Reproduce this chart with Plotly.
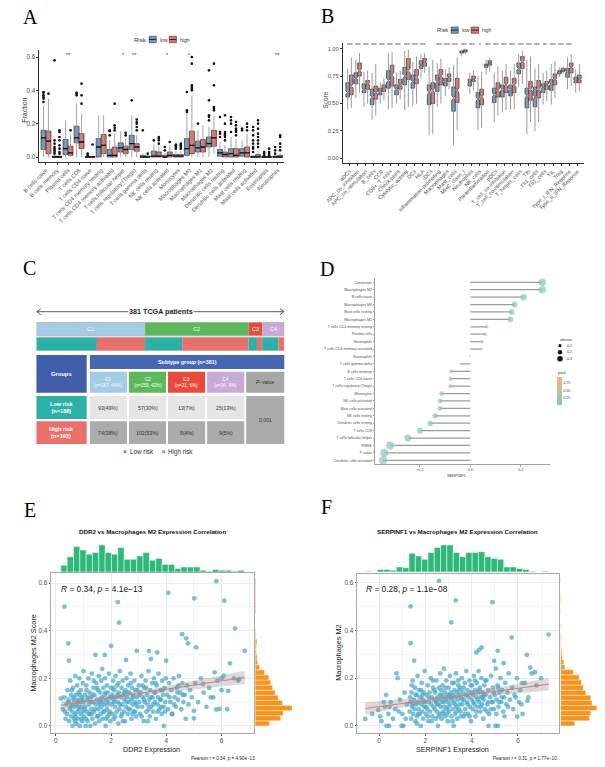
import numpy as np
import plotly.graph_objects as go

W, H = 605, 767
def X(px): return px / W
def Y(py): return 1 - py / H

SANS = "Liberation Sans, Arial, sans-serif"
SERIF = "Liberation Serif, Times New Roman, serif"
TXT = "#4d4d4d"
INK = "#222222"
BLUE = "#6D9AC4"
RED = "#E8716B"
WHISK = "#9a9a9a"
OUTL = "#333333"

# ---------------- Panel A data (CIBERSORT fractions) ----------------
a_cells = ["B cells naive", "B cells memory", "Plasma cells", "T cells CD8", "T cells CD4 naive",
           "T cells CD4 memory resting", "T cells CD4 memory activated", "T cells follicular helper",
           "T cells regulatory (Tregs)", "T cells gamma delta", "NK cells resting", "NK cells activated",
           "Monocytes", "Macrophages M0", "Macrophages M1", "Macrophages M2", "Dendritic cells resting",
           "Dendritic cells activated", "Mast cells resting", "Mast cells activated", "Eosinophils", "Neutrophils"]
a_sig = ["", "", "**", "", "", "", "", "*", "**", "", "", "*", "", "*", "", "", "", "", "", "", "", "**"]
a_low_q1 = [0.045, 0, 0.015, 0.085, 0, 0, 0, 0.03, 0.045, 0, 0, 0, 0, 0.01, 0.03, 0.06, 0.005, 0, 0.005, 0, 0, 0]
a_low_med = [0.115, 0, 0.05, 0.115, 0, 0.06, 0.01, 0.055, 0.08, 0, 0.005, 0, 0.005, 0.05, 0.055, 0.08, 0.025, 0.02, 0.025, 0, 0, 0]
a_low_q3 = [0.16, 0.005, 0.105, 0.185, 0.002, 0.11, 0.045, 0.085, 0.13, 0.01, 0.035, 0.01, 0.015, 0.11, 0.095, 0.12, 0.045, 0.05, 0.05, 0.005, 0.002, 0.005]
a_low_lo = [0, 0, 0, 0, 0, 0, 0, 0, 0, 0, 0, 0, 0, 0, 0, 0, 0, 0, 0, 0, 0, 0]
a_low_hi = [0.31, 0.01, 0.22, 0.32, 0.004, 0.25, 0.1, 0.155, 0.25, 0.02, 0.075, 0.025, 0.035, 0.26, 0.16, 0.18, 0.09, 0.12, 0.1, 0.01, 0.004, 0.01]
a_low_out = [[0.33, 0.35, 0.36, 0.37, 0.385, 0.39], [0.02, 0.03, 0.04, 0.05, 0.06, 0.08, 0.1, 0.58], [],
             [0.37, 0.38, 0.385], [0.01, 0.02], [], [0.13, 0.155, 0.16], [], [0.34], [0.16], [0.1], [0.04, 0.06],
             [0.05, 0.06, 0.07, 0.075], [0.27, 0.28, 0.39], [0.2], [0.22, 0.24, 0.25, 0.34, 0.52],
             [0.12, 0.14, 0.15, 0.24], [0.15, 0.2, 0.22, 0.24], [0.16, 0.17],
             [0.03, 0.05, 0.06, 0.08, 0.1, 0.13, 0.16, 0.18], [0.01, 0.02, 0.03], [0.02, 0.04, 0.06]]
a_high_q1 = [0.02, 0, 0.01, 0.05, 0, 0.02, 0, 0.02, 0.035, 0, 0, 0, 0, 0.02, 0.03, 0.065, 0, 0, 0, 0, 0, 0]
a_high_med = [0.095, 0, 0.025, 0.09, 0, 0.07, 0.01, 0.045, 0.06, 0, 0.005, 0.01, 0.005, 0.07, 0.06, 0.115, 0.015, 0.01, 0.025, 0, 0, 0]
a_high_q3 = [0.155, 0.005, 0.065, 0.14, 0.002, 0.135, 0.06, 0.065, 0.08, 0.005, 0.03, 0.03, 0.015, 0.155, 0.105, 0.16, 0.03, 0.05, 0.06, 0.015, 0.002, 0.01]
a_high_lo = [0, 0, 0, 0, 0, 0, 0, 0, 0, 0, 0, 0, 0, 0, 0, 0.02, 0, 0, 0, 0, 0, 0]
a_high_hi = [0.35, 0.01, 0.135, 0.26, 0.004, 0.25, 0.14, 0.11, 0.13, 0.01, 0.065, 0.07, 0.035, 0.37, 0.19, 0.245, 0.07, 0.11, 0.14, 0.035, 0.004, 0.025]
a_high_out = [[0.38], [0.02, 0.03, 0.05, 0.07, 0.1, 0.12, 0.15, 0.16], [0.16], [0.32, 0.37, 0.44], [0.075], [],
              [0.16, 0.175, 0.19, 0.32], [0.13, 0.145], [0.16, 0.18, 0.2, 0.21, 0.225], [0.02],
              [0.08, 0.1, 0.11, 0.12], [0.09], [0.05, 0.06, 0.07, 0.08], [0.4, 0.41, 0.42, 0.43, 0.56, 0.6], [],
              [0.28, 0.29, 0.3, 0.43, 0.56], [0.1, 0.12, 0.13, 0.14, 0.15, 0.2, 0.25],
              [0.13, 0.15, 0.16, 0.17, 0.19, 0.21], [0.16, 0.18, 0.2],
              [0.06, 0.08, 0.1, 0.12, 0.14, 0.17, 0.2, 0.22], [0.01, 0.02, 0.03, 0.05], [0.04, 0.06, 0.08, 0.12, 0.13]]

# ---------------- Panel B data (ssGSEA scores) ----------------
b_sets = ["aDCs", "APC_co_inhibition", "APC_co_stimulation", "B_cells", "CCR", "CD8+_T_cells", "Check-point",
          "Cytolytic_activity", "DCs", "HLA", "iDCs", "Inflammation-promoting", "Macrophages", "Mast_cells",
          "MHC_class_I", "Neutrophils", "NK_cells", "Parainflammation", "pDCs", "T_cell_co-inhibition",
          "T_cell_co-stimulation", "T_helper_cells", "Tfh", "Th1_cells", "Th2_cells", "TIL", "Treg",
          "Type_I_IFN_Reponse", "Type_II_IFN_Reponse"]
b_sig = ["***"] * 10 + [""] + ["***"] * 5 + ["*"] + ["***"] * 7 + ["**"] + ["***"] * 3 + [""]
b_low_q1 = [0.56, 0.68, 0.60, 0.49, 0.58, 0.64, 0.58, 0.67, 0.64, 0.82, 0.49, 0.61, 0.66, 0.43, 0.96, 0.66, 0.46, 0.83, 0.51, 0.56, 0.57, 0.77, 0.46, 0.47, 0.60, 0.62, 0.77, 0.74, 0.69]
b_low_med = [0.60, 0.73, 0.63, 0.56, 0.60, 0.71, 0.63, 0.75, 0.70, 0.85, 0.60, 0.70, 0.70, 0.55, 0.97, 0.70, 0.54, 0.85, 0.58, 0.63, 0.63, 0.82, 0.57, 0.56, 0.65, 0.68, 0.79, 0.79, 0.71]
b_low_q3 = [0.69, 0.78, 0.68, 0.63, 0.64, 0.80, 0.67, 0.83, 0.76, 0.89, 0.67, 0.76, 0.73, 0.65, 0.98, 0.72, 0.60, 0.86, 0.64, 0.67, 0.67, 0.87, 0.64, 0.65, 0.68, 0.72, 0.80, 0.82, 0.74]
b_low_lo = [0.45, 0.55, 0.47, 0.35, 0.50, 0.45, 0.50, 0.44, 0.48, 0.73, 0.21, 0.47, 0.57, 0.12, 0.93, 0.59, 0.26, 0.76, 0.33, 0.42, 0.44, 0.65, 0.22, 0.25, 0.49, 0.49, 0.74, 0.63, 0.60]
b_low_hi = [0.82, 0.90, 0.79, 0.78, 0.69, 0.96, 0.78, 0.98, 0.88, 0.95, 0.84, 0.87, 0.81, 0.85, 0.99, 0.78, 0.75, 0.90, 0.78, 0.80, 0.80, 0.95, 0.90, 0.82, 0.78, 0.86, 0.83, 0.92, 0.81]
b_high_q1 = [0.58, 0.75, 0.63, 0.54, 0.61, 0.66, 0.63, 0.72, 0.68, 0.84, 0.50, 0.67, 0.70, 0.51, 0.97, 0.70, 0.49, 0.85, 0.56, 0.60, 0.60, 0.82, 0.53, 0.55, 0.63, 0.67, 0.79, 0.78, 0.69]
b_high_med = [0.66, 0.80, 0.68, 0.60, 0.64, 0.76, 0.67, 0.80, 0.74, 0.88, 0.62, 0.75, 0.74, 0.62, 0.98, 0.72, 0.56, 0.87, 0.62, 0.67, 0.67, 0.88, 0.63, 0.63, 0.67, 0.72, 0.80, 0.83, 0.72]
b_high_q3 = [0.76, 0.87, 0.71, 0.66, 0.67, 0.85, 0.72, 0.91, 0.81, 0.91, 0.69, 0.81, 0.77, 0.73, 0.99, 0.75, 0.63, 0.89, 0.69, 0.74, 0.73, 0.93, 0.70, 0.71, 0.70, 0.77, 0.82, 0.87, 0.76]
b_high_lo = [0.46, 0.60, 0.50, 0.39, 0.53, 0.46, 0.54, 0.47, 0.50, 0.78, 0.22, 0.50, 0.63, 0.26, 0.95, 0.62, 0.28, 0.79, 0.39, 0.44, 0.45, 0.68, 0.33, 0.33, 0.52, 0.55, 0.77, 0.66, 0.61]
b_high_hi = [0.92, 0.96, 0.80, 0.86, 0.73, 0.97, 0.80, 0.99, 0.93, 0.96, 0.90, 0.91, 0.83, 0.92, 1.00, 0.80, 0.79, 0.92, 0.84, 0.86, 0.86, 0.98, 0.93, 0.86, 0.80, 0.89, 0.84, 0.95, 0.86]
b_n = [188, 193]

# ---------------- Panel C data ----------------
c_subtypes = ["C1", "C2", "C3", "C4"]
c_low = [93, 57, 13, 25]
c_high = [74, 102, 8, 9]
c_pvalue = "0.001"
c_colors = ["#A3CBE6", "#5CB85B", "#E84B3C", "#C8AAD9"]

# ---------------- Panel D data (SERPINF1 vs immune cells) ----------------
d_names = ["Correlation", "Macrophages M2", "B cells naive", "Macrophages M0", "Mast cells resting",
           "Macrophages M1", "T cells CD4 memory resting", "Plasma cells", "Neutrophils",
           "T cells CD4 memory activated", "Eosinophils", "T cells gamma delta", "B cells memory",
           "T cells CD4 naive", "T cells regulatory (Tregs)", "Monocytes", "NK cells activated",
           "Mast cells activated", "NK cells resting", "Dendritic cells resting", "T cells CD8",
           "T cells follicular helper", "RMSE", "P-value", "Dendritic cells activated"]
d_cor = [0.284, 0.284, 0.21, 0.175, 0.163, 0.158, 0.065, 0.059, 0.048, 0.043, -0.003, -0.037, -0.075, -0.078,
         -0.078, -0.113, -0.119, -0.119, -0.139, -0.158, -0.198, -0.247, -0.316, -0.339, -0.344]
d_pval = [0.02, 0.02, 0.02, 0.02, 0.02, 0.02, 0.22, 0.27, 0.38, 0.42, 0.95, 0.5, 0.14, 0.13, 0.13, 0.04, 0.03,
          0.03, 0.02, 0.02, 0.02, 0.02, 0.02, 0.02, 0.02]

# ---------------- Panel E data (DDR2 vs Macrophages M2) ----------------
e_points = [
    (5.81, 0.608), (4.07, 0.559), (5.01, 0.536), (6.10, 0.526), (0.31, 0.501), (2.24, 0.520), (2.29, 0.434),
    (6.49, 0.410), (4.57, 0.385), (4.72, 0.368), (4.78, 0.347), (0.45, 0.347), (5.08, 0.330), (6.84, 0.315),
    (2.00, 0.336), (2.93, 0.315), (3.37, 0.315), (3.67, 0.309), (1.43, 0.298), (1.77, 0.298), (0.47, 0.274),
    (2.54, 0.277), (3.44, 0.281), (3.99, 0.274), (6.30, 0.263), (5.75, 0.225), (6.08, 0.211), (6.63, 0.196),
    (6.00, 0.200), (5.32, 0.176), (5.61, 0.120), (6.24, 0.147), (5.93, 0.071), (5.81, 0.069), (5.00, 0.032),
    (5.00, 0.063), (3.91, 0.000), (0.18, 0.115),
    (0.25, 0.07), (0.3, 0.12), (0.35, 0.03), (0.38, 0.09), (0.4, 0.05), (0.42, 0.15), (0.45, 0.1), (0.48, 0.02),
    (0.5, 0.07), (0.52, 0.19), (0.55, 0.04), (0.55, 0.13), (0.58, 0.09), (0.6, 0.0), (0.6, 0.06), (0.62, 0.16),
    (0.65, 0.11), (0.66, 0.03), (0.68, 0.08), (0.7, 0.21), (0.7, 0.05), (0.72, 0.13), (0.74, 0.01), (0.75, 0.09),
    (0.77, 0.17), (0.78, 0.06), (0.8, 0.11), (0.8, 0.03), (0.82, 0.14), (0.84, 0.07), (0.85, 0.2), (0.86, 0.0),
    (0.88, 0.1), (0.9, 0.05), (0.9, 0.15), (0.92, 0.08), (0.94, 0.12), (0.95, 0.02), (0.97, 0.18), (0.98, 0.06),
    (1.0, 0.23), (1.0, 0.1),
    (1.02, 0.04), (1.05, 0.13), (1.06, 0.08), (1.08, 0.0), (1.1, 0.17), (1.12, 0.06), (1.14, 0.11), (1.15, 0.02),
    (1.18, 0.2), (1.2, 0.09), (1.22, 0.14), (1.23, 0.05), (1.25, 0.0), (1.27, 0.12), (1.28, 0.07), (1.3, 0.22),
    (1.32, 0.03), (1.34, 0.1), (1.36, 0.16), (1.38, 0.06), (1.4, 0.13), (1.42, 0.01), (1.44, 0.09), (1.46, 0.18),
    (1.48, 0.04), (1.5, 0.11), (1.52, 0.15), (1.54, 0.07), (1.55, 0.21), (1.57, 0.02), (1.58, 0.1), (1.6, 0.14),
    (1.62, 0.05), (1.64, 0.19), (1.65, 0.08), (1.67, 0.12), (1.68, 0.24), (1.7, 0.03), (1.72, 0.16), (1.74, 0.09),
    (1.75, 0.06), (1.77, 0.13), (1.78, 0.2), (1.8, 0.0), (1.82, 0.11), (1.84, 0.07), (1.85, 0.17), (1.87, 0.04),
    (1.88, 0.14), (1.9, 0.1), (1.92, 0.22), (1.94, 0.06), (1.95, 0.12), (1.97, 0.02), (1.99, 0.16),
    (2.02, 0.09), (2.04, 0.13), (2.05, 0.05), (2.07, 0.19), (2.09, 0.11), (2.1, 0.03), (2.12, 0.15), (2.14, 0.08),
    (2.16, 0.21), (2.18, 0.12), (2.2, 0.06), (2.22, 0.17), (2.24, 0.1), (2.26, 0.01), (2.28, 0.14), (2.3, 0.07),
    (2.32, 0.23), (2.34, 0.12), (2.36, 0.04), (2.38, 0.16), (2.4, 0.09), (2.42, 0.19), (2.44, 0.13), (2.46, 0.06),
    (2.48, 0.11), (2.5, 0.02), (2.52, 0.15), (2.54, 0.08), (2.56, 0.2), (2.58, 0.12), (2.6, 0.05), (2.62, 0.17),
    (2.64, 0.1), (2.66, 0.14), (2.68, 0.07), (2.7, 0.22), (2.72, 0.11), (2.74, 0.03), (2.76, 0.16), (2.78, 0.09),
    (2.8, 0.13), (2.82, 0.06), (2.84, 0.19), (2.86, 0.1), (2.88, 0.15), (2.9, 0.04), (2.93, 0.12), (2.96, 0.08),
    (3.0, 0.17), (3.02, 0.1), (3.05, 0.05), (3.07, 0.14), (3.1, 0.21), (3.12, 0.08), (3.15, 0.12), (3.18, 0.02),
    (3.2, 0.16), (3.22, 0.1), (3.25, 0.19), (3.28, 0.06), (3.3, 0.13), (3.32, 0.09), (3.35, 0.23), (3.38, 0.11),
    (3.4, 0.04), (3.42, 0.15), (3.45, 0.08), (3.48, 0.18), (3.5, 0.12), (3.52, 0.06), (3.55, 0.2), (3.58, 0.1),
    (3.6, 0.14), (3.62, 0.03), (3.65, 0.17), (3.68, 0.09), (3.7, 0.12), (3.72, 0.22), (3.75, 0.07), (3.78, 0.15),
    (3.8, 0.11), (3.83, 0.05), (3.85, 0.19), (3.88, 0.13), (3.9, 0.08), (3.93, 0.16), (3.96, 0.1), (3.98, 0.2),
    (4.03, 0.13), (4.06, 0.07), (4.1, 0.18), (4.14, 0.1), (4.18, 0.15), (4.22, 0.05), (4.26, 0.2), (4.3, 0.12),
    (4.34, 0.08), (4.38, 0.16), (4.42, 0.11), (4.46, 0.21), (4.5, 0.14), (4.54, 0.07), (4.58, 0.18), (4.62, 0.1),
    (4.66, 0.13), (4.7, 0.03), (4.75, 0.17), (4.8, 0.09), (4.86, 0.15), (4.92, 0.12),
    (5.05, 0.18), (5.15, 0.1), (5.25, 0.2), (5.35, 0.14), (5.45, 0.08), (5.55, 0.16), (5.7, 0.12), (5.85, 0.19),
    (6.0, 0.15), (6.2, 0.07), (6.45, 0.2), (6.6, 0.19),
    (0.55, 0.08), (0.63, 0.12), (0.71, 0.04), (0.79, 0.1), (0.87, 0.13), (0.93, 0.03), (1.03, 0.07), (1.11, 0.15),
    (1.19, 0.05), (1.26, 0.1), (1.33, 0.13), (1.41, 0.07), (1.49, 0.16), (1.56, 0.09), (1.63, 0.11), (1.71, 0.06),
    (1.79, 0.14), (1.86, 0.09), (1.93, 0.05), (2.01, 0.12), (2.08, 0.16), (2.15, 0.04), (2.23, 0.13), (2.31, 0.09),
    (2.39, 0.05), (2.47, 0.14), (2.55, 0.1), (2.63, 0.07), (2.71, 0.18), (2.79, 0.12), (2.87, 0.06), (2.95, 0.15),
    (3.03, 0.13), (3.11, 0.04), (3.19, 0.11), (3.27, 0.16), (3.36, 0.07), (3.44, 0.12), (3.53, 0.09), (3.61, 0.18),
    (3.69, 0.06), (3.77, 0.11), (3.86, 0.15), (3.95, 0.06), (4.12, 0.12), (4.28, 0.09), (4.44, 0.17), (4.6, 0.13),
    (0.33, 0.06), (0.46, 0.11), (0.58, 0.15), (0.69, 0.02), (0.83, 0.08), (0.96, 0.11), (1.09, 0.03), (1.16, 0.12),
    (1.29, 0.05), (1.37, 0.19), (1.53, 0.04), (1.69, 0.1), (1.83, 0.03), (2.11, 0.1), (2.27, 0.18), (2.43, 0.02),
    (2.59, 0.14), (2.77, 0.05), (2.91, 0.09), (3.14, 0.17), (3.33, 0.02), (3.57, 0.14), (3.81, 0.08), (4.2, 0.05),
    (4.4, 0.14)]
e_hist_top = [8, 18, 30, 26, 21, 23, 32, 23, 21, 29, 15, 15, 19, 23, 14, 16, 9, 9, 4, 6, 6, 6, 2, 1, 3, 2, 2, 1, 2]
e_top_start, e_top_bw = 0.18, 0.229
e_hist_right = [23, 41, 45, 59, 44, 37, 32, 28, 25, 22, 15, 7, 4, 3, 2, 2, 3, 1, 1, 0, 0, 0, 1, 1, 1, 1, 1, 1, 1]
e_right_start, e_right_bw = 0.0, 0.0214
e_label = "<i>R</i> = 0.34, <i>p</i> = 4.1e\u221213"
e_pearson = "Pearson r = 0.34, p = 4.90e\u221213"

# ---------------- Panel F data (SERPINF1 vs Macrophages M2) ----------------
f_points = [
    (2.59, 0.608), (3.31, 0.526), (4.90, 0.519), (1.36, 0.501), (3.12, 0.434), (7.33, 0.383), (5.73, 0.371),
    (1.36, 0.347), (4.43, 0.329), (4.20, 0.308), (5.13, 0.315), (4.32, 0.319), (6.39, 0.298), (1.51, 0.274),
    (4.97, 0.273), (5.38, 0.263), (6.53, 0.245), (6.74, 0.225), (6.18, 0.179), (6.41, 0.105), (-0.60, 0.029),
    (-0.04, 0.067), (0.32, 0.0), (0.43, 0.0), (4.73, 0.0), (5.03, 0.0), (5.13, 0.0), (5.97, 0.039), (0.97, 0.0),
    (-0.3, 0.05), (0.05, 0.04), (0.1, 0.02), (0.25, 0.08), (0.3, 0.13), (0.4, 0.05), (0.5, 0.1), (0.6, 0.03),
    (0.7, 0.07), (0.8, 0.2), (0.9, 0.11), (1.0, 0.05), (1.1, 0.14), (1.2, 0.09), (0.75, 0.22), (1.05, 0.0),
    (1.32, 0.06), (1.35, 0.1), (1.38, 0.03), (1.4, 0.14), (1.42, 0.08), (1.45, 0.19), (1.47, 0.05), (1.5, 0.11),
    (1.52, 0.07), (1.55, 0.16), (1.57, 0.02), (1.6, 0.09), (1.62, 0.13), (1.64, 0.04), (1.66, 0.21), (1.68, 0.1),
    (1.7, 0.07), (1.72, 0.15), (1.75, 0.05), (1.77, 0.12), (1.8, 0.0), (1.82, 0.09), (1.84, 0.18), (1.86, 0.06),
    (1.88, 0.11), (1.9, 0.03), (1.92, 0.14), (1.95, 0.08), (1.97, 0.23), (2.0, 0.1), (2.02, 0.05), (2.05, 0.13),
    (2.08, 0.07), (2.1, 0.17), (2.13, 0.02), (2.15, 0.1), (2.18, 0.14), (2.2, 0.06), (2.23, 0.2), (2.25, 0.09),
    (2.28, 0.12), (2.3, 0.04), (2.33, 0.16), (2.35, 0.08), (2.38, 0.11),
    (2.4, 0.07), (2.42, 0.14), (2.44, 0.03), (2.46, 0.1), (2.48, 0.19), (2.5, 0.06), (2.52, 0.12), (2.54, 0.0),
    (2.56, 0.09), (2.58, 0.16), (2.6, 0.05), (2.62, 0.11), (2.64, 0.22), (2.66, 0.08), (2.68, 0.13), (2.7, 0.03),
    (2.72, 0.1), (2.74, 0.17), (2.76, 0.06), (2.78, 0.12), (2.8, 0.24), (2.82, 0.08), (2.84, 0.14), (2.86, 0.04),
    (2.88, 0.11), (2.9, 0.19), (2.92, 0.07), (2.94, 0.13), (2.96, 0.02), (2.98, 0.1), (3.0, 0.16), (3.02, 0.06),
    (3.04, 0.12), (3.06, 0.21), (3.08, 0.09), (3.1, 0.14), (3.12, 0.04), (3.14, 0.11), (3.16, 0.18), (3.18, 0.07),
    (3.2, 0.13), (3.22, 0.0), (3.24, 0.1), (3.26, 0.15), (3.28, 0.05), (3.3, 0.12), (3.32, 0.22), (3.34, 0.08),
    (3.36, 0.14), (3.38, 0.03), (3.4, 0.11), (3.42, 0.17), (3.44, 0.07), (3.46, 0.13), (3.48, 0.09),
    (3.5, 0.16), (3.52, 0.06), (3.55, 0.12), (3.57, 0.2), (3.6, 0.09), (3.62, 0.14), (3.65, 0.04), (3.67, 0.11),
    (3.7, 0.18), (3.72, 0.07), (3.75, 0.13), (3.77, 0.23), (3.8, 0.1), (3.82, 0.15), (3.85, 0.05), (3.87, 0.12),
    (3.9, 0.19), (3.92, 0.08), (3.95, 0.14), (3.97, 0.02), (4.0, 0.11), (4.02, 0.17), (4.05, 0.07), (4.07, 0.13),
    (4.1, 0.21), (4.12, 0.09), (4.15, 0.15), (4.17, 0.04), (4.2, 0.12), (4.22, 0.18), (4.25, 0.08), (4.27, 0.14),
    (4.3, 0.23), (4.32, 0.1), (4.35, 0.16), (4.37, 0.06), (4.4, 0.12), (4.42, 0.2), (4.45, 0.09), (4.47, 0.14),
    (4.5, 0.03), (4.52, 0.11), (4.55, 0.17), (4.57, 0.07),
    (4.6, 0.13), (4.64, 0.19), (4.68, 0.09), (4.72, 0.15), (4.76, 0.05), (4.8, 0.12), (4.84, 0.21), (4.88, 0.1),
    (4.92, 0.16), (4.96, 0.07), (5.0, 0.13), (5.04, 0.24), (5.08, 0.11), (5.12, 0.17), (5.16, 0.08), (5.2, 0.14),
    (5.24, 0.2), (5.28, 0.1), (5.32, 0.15), (5.36, 0.06), (5.4, 0.12), (5.45, 0.18), (5.5, 0.09), (5.55, 0.14),
    (5.6, 0.22), (5.65, 0.11),
    (5.75, 0.16), (5.8, 0.07), (5.9, 0.12), (5.95, 0.2), (6.05, 0.1), (6.1, 0.15), (6.2, 0.05), (6.3, 0.18),
    (6.45, 0.12), (6.6, 0.22), (6.8, 0.17), (7.0, 0.2),
    (1.34, 0.12), (1.46, 0.09), (1.58, 0.13), (1.69, 0.05), (1.81, 0.15), (1.93, 0.1), (2.04, 0.08), (2.16, 0.12),
    (2.27, 0.02), (2.39, 0.15), (2.51, 0.09), (2.63, 0.13), (2.75, 0.05), (2.87, 0.16), (2.99, 0.08), (3.11, 0.12),
    (3.23, 0.18), (3.35, 0.06), (3.47, 0.15), (3.59, 0.11), (3.71, 0.05), (3.83, 0.09), (3.96, 0.17), (4.08, 0.1),
    (4.2, 0.06), (4.33, 0.15), (4.46, 0.12), (4.59, 0.19), (4.71, 0.1), (4.83, 0.07), (4.95, 0.14), (5.07, 0.05),
    (5.19, 0.1), (5.31, 0.12), (1.41, 0.17), (1.63, 0.01), (1.87, 0.13), (2.11, 0.04), (2.33, 0.19), (2.45, 0.1),
    (2.57, 0.04), (2.69, 0.15), (2.81, 0.1), (2.93, 0.05), (3.05, 0.13), (3.17, 0.02), (3.29, 0.09), (3.41, 0.19),
    (3.53, 0.04), (3.65, 0.16), (3.79, 0.13), (3.91, 0.04), (4.03, 0.14), (4.14, 0.19), (4.26, 0.11), (4.39, 0.08),
    (4.53, 0.13), (4.66, 0.06), (4.9, 0.1), (5.15, 0.16), (5.42, 0.04), (5.58, 0.08), (0.45, 0.08), (0.85, 0.06),
    (0.2, 0.1), (1.15, 0.03), (5.85, 0.13), (6.15, 0.09)]
f_hist_top = [1, 0, 3, 3, 2, 6, 5, 22, 19, 15, 23, 29, 32, 32, 23, 18, 23, 23, 24, 18, 16, 15, 6, 6, 4, 3, 1, 0, 1]
f_top_start, f_top_bw = -0.62, 0.273
f_hist_right = [23, 47, 49, 59, 51, 49, 41, 37, 34, 30, 21, 7, 5, 3, 2, 1, 1, 1, 0, 1, 0, 0, 1, 0, 1, 1, 0, 0, 1]
f_right_start, f_right_bw = 0.0, 0.0214
f_label = "<i>R</i> = 0.28, <i>p</i> = 1.1e\u221208"
f_pearson = "Pearson r = 0.31, p = 1.77e\u221210"

# =====================================================================
traces, shapes, ann = [], [], []

def text(x, y, s, size, color=INK, xanchor="center", yanchor="middle", angle=0, family=SANS, bg=None):
    d = dict(x=X(x), y=Y(y), xref="paper", yref="paper", text=s, showarrow=False, xanchor=xanchor,
             yanchor=yanchor, font=dict(size=size, color=color, family=family), textangle=angle, borderpad=0)
    if bg:
        d["bgcolor"] = bg
    ann.append(d)

def rect(x0, x1, y0, y1, fill, line=None, lw=0):
    shapes.append(dict(type="rect", xref="paper", yref="paper", x0=X(x0), x1=X(x1), y0=Y(y1), y1=Y(y0),
                       fillcolor=fill, line=dict(color=line or fill, width=lw), layer="above"))

def seg_trace(x0s, x1s, y0s, y1s, color, width, xa, ya):
    xs, ys = [], []
    for a, b, c, d in zip(x0s, x1s, y0s, y1s):
        xs += [a, b, None]
        ys += [c, d, None]
    return go.Scatter(x=xs, y=ys, mode="lines", line=dict(color=color, width=width), xaxis=xa, yaxis=ya,
                      hoverinfo="skip", showlegend=False)

def box_panel(n, groups, xa, ya, notched, whisk_w, med_overlay):
    off, bw = 0.225, 0.45
    for sign, (q1, med, q3, lo, hi, out, color, nn) in zip((-1, 1), groups):
        pos = [i + sign * off for i in range(n)]
        traces.append(seg_trace(pos, pos, lo, hi, WHISK, whisk_w, xa, ya))
        kw = dict(x=pos, q1=q1, median=med, q3=q3, lowerfence=q1, upperfence=q3, width=bw, whiskerwidth=0,
                  fillcolor=color, line=dict(color=OUTL, width=0.7), boxpoints=False, xaxis=xa, yaxis=ya,
                  hoverinfo="skip", showlegend=False)
        if notched:
            kw.update(notched=True, notchwidth=0.5,
                      notchspan=[1.58 * (b - a) / np.sqrt(nn) for a, b in zip(q1, q3)])
        traces.append(go.Box(**kw))
        if med_overlay:
            traces.append(seg_trace([p - bw / 2 for p in pos], [p + bw / 2 for p in pos], med, med, "#111", 1.4, xa, ya))
        if out is not None:
            ox, oy = [], []
            for p, vals in zip(pos, out):
                ox += [p] * len(vals)
                oy += vals
            traces.append(go.Scatter(x=ox, y=oy, mode="markers", marker=dict(color="#111", size=2.6),
                                     xaxis=xa, yaxis=ya, hoverinfo="skip", showlegend=False))

# ---------------- Panel A ----------------
box_panel(len(a_cells),
          [(a_low_q1, a_low_med, a_low_q3, a_low_lo, a_low_hi, a_low_out, BLUE, 188),
           (a_high_q1, a_high_med, a_high_q3, a_high_lo, a_high_hi, a_high_out, RED, 193)],
          "x", "y", False, 0.9, True)
for i, s in enumerate(a_sig):
    if s:
        ann.append(dict(x=i, y=0.612, xref="x", yref="y", text=s, showarrow=False,
                        font=dict(size=5.5, color="#333", family=SANS)))

def risk_legend(rx, ry, l0, l1, lt, h0, h1, ht, y0, y1, fs):
    text(rx, ry, "Risk", fs + 1, "#333")
    for (x0, x1, c, tx, lab) in ((l0, l1, BLUE, lt, "low"), (h0, h1, RED, ht, "high")):
        rect(x0, x1, y0, y1, c, OUTL, 0.6)
        shapes.append(dict(type="line", xref="paper", yref="paper", x0=X(x0), x1=X(x1), y0=Y((y0 + y1) / 2),
                           y1=Y((y0 + y1) / 2), line=dict(color="#111", width=0.8)))
        text(tx, ry, lab, fs, "#333", xanchor="left")

risk_legend(127.5, 39.5, 136, 143.3, 146, 156.7, 164, 166.7, 36.3, 42.7, 5)
text(7, 110, "Fraction", 7, "#333", angle=-90)

# ---------------- Panel B ----------------
box_panel(len(b_sets),
          [(b_low_q1, b_low_med, b_low_q3, b_low_lo, b_low_hi, None, BLUE, b_n[0]),
           (b_high_q1, b_high_med, b_high_q3, b_high_lo, b_high_hi, None, RED, b_n[1])],
          "x2", "y2", True, 1.0, False)
for i, s in enumerate(b_sig):
    if s:
        ann.append(dict(x=i, y=1.03, xref="x2", yref="y2", text=s, showarrow=False,
                        font=dict(size=4.8, color="#333", family=SANS)))
risk_legend(438, 30, 446.7, 454, 456.7, 467.3, 475, 477, 27, 33.3, 4.8)
text(317.5, 100, "Score", 6.5, "#333", angle=-90)

# ---------------- Panel C ----------------
c_n = [l + h for l, h in zip(c_low, c_high)]
c_total = sum(c_n)
cum = 0
for name, n, lo, hi, col in zip(c_subtypes, c_n, c_low, c_high, c_colors):
    traces.append(go.Bar(orientation="h", y=[1], x=[n], base=[cum], width=0.9, marker=dict(color=col, line=dict(width=0)),
                         xaxis="x3", yaxis="y3", hoverinfo="skip", showlegend=False))
    ann.append(dict(x=cum + n / 2, y=1, xref="x3", yref="y3", text=name, showarrow=False,
                    font=dict(size=5.5, color="white", family=SANS)))
    traces.append(go.Bar(orientation="h", y=[0], x=[lo], base=[cum], width=0.9, marker=dict(color="#2DB1A7", line=dict(width=0)),
                         xaxis="x3", yaxis="y3", hoverinfo="skip", showlegend=False))
    traces.append(go.Bar(orientation="h", y=[0], x=[hi], base=[cum + lo], width=0.9, marker=dict(color="#E8716C", line=dict(width=0)),
                         xaxis="x3", yaxis="y3", hoverinfo="skip", showlegend=False))
    cum += n
for yy in (1, 0):
    shapes.append(dict(type="rect", xref="x3", yref="y3", x0=0, x1=c_total, y0=yy - 0.45, y1=yy + 0.45,
                       line=dict(color="#B0B0B0", width=0.8), fillcolor="rgba(0,0,0,0)", layer="above"))

# arrow with title
shapes.append(dict(type="line", xref="paper", yref="paper", x0=X(20.5), x1=X(274.5), y0=Y(311.7), y1=Y(311.7),
                   line=dict(color="#333", width=0.8)))
shapes.append(dict(type="path", xref="paper", yref="paper", line=dict(color="#333", width=0.8),
                   path=f"M {X(24.5)},{Y(308.7)} L {X(20.5)},{Y(311.7)} L {X(24.5)},{Y(314.7)}"))
shapes.append(dict(type="path", xref="paper", yref="paper", line=dict(color="#333", width=0.8),
                   path=f"M {X(270.5)},{Y(308.7)} L {X(274.5)},{Y(311.7)} L {X(270.5)},{Y(314.7)}"))
text(148, 311.5, f"<b>{c_total} TCGA patients</b>", 7.2, "#222", bg="white")

# table
gx0, gx1 = 20, 71.7
cols = [(75, 113.2), (115.2, 153.4), (155.4, 193.6), (195.6, 233.8), (235.8, 275)]
r_hdr, r_sub, r_low, r_high = (355, 369), (371.7, 392.7), (396, 419), (421.3, 444)
rect(gx0, gx1, r_hdr[0], r_sub[1], "#3F5DA8")
text((gx0 + gx1) / 2, (r_hdr[0] + r_sub[1]) / 2, "<b>Groups</b>", 5.8, "white")
rect(cols[0][0], cols[4][1], r_hdr[0], r_hdr[1], "#4767B1")
text((cols[0][0] + cols[4][1]) / 2, sum(r_hdr) / 2, f"<b>Subtype group (n={c_total})</b>", 5.4, "white")
for (x0, x1), name, n, col in zip(cols[:4], c_subtypes, c_n, c_colors):
    rect(x0, x1, r_sub[0], r_sub[1], col)
    text((x0 + x1) / 2, sum(r_sub) / 2, f"{name}<br>(n={n}, {round(100 * n / c_total)}%)", 4.6, "white")
rect(cols[4][0], cols[4][1], r_sub[0], r_sub[1], "#A7A7A7")
text(sum(cols[4]) / 2, sum(r_sub) / 2, "<i>P</i>\u2212value", 5, "#333")
n_low, n_high = sum(c_low), sum(c_high)
rect(gx0, gx1, r_low[0], r_low[1], "#2DB1A7")
text((gx0 + gx1) / 2, sum(r_low) / 2, f"<b>Low risk<br>(n={n_low})</b>", 5.6, "white")
rect(gx0, gx1, r_high[0], r_high[1], "#E8716C")
text((gx0 + gx1) / 2, sum(r_high) / 2, f"<b>High risk<br>(n={n_high})</b>", 5.6, "white")
for (x0, x1), lo, hi in zip(cols[:4], c_low, c_high):
    rect(x0, x1, r_low[0], r_low[1], "#E6E6E6")
    text((x0 + x1) / 2, sum(r_low) / 2, f"{lo}({round(100 * lo / n_low)}%)", 5.2, "#333")
    rect(x0, x1, r_high[0], r_high[1], "#ABABAB")
    text((x0 + x1) / 2, sum(r_high) / 2, f"{hi}({round(100 * hi / n_high)}%)", 5.2, "#333")
rect(cols[4][0], cols[4][1], r_low[0], r_high[1], "#ABABAB")
text(sum(cols[4]) / 2, (r_low[0] + r_high[1]) / 2, c_pvalue, 5.2, "#333")
# legend
rect(109.8, 112.6, 450.3, 453.1, "#2DB1A7")
text(115, 451.7, "Low risk", 6.3, "#333", xanchor="left")
rect(149.5, 152.3, 450.3, 453.1, "#E8716C")
text(154.5, 451.7, "High risk", 6.3, "#333", xanchor="left")

# ---------------- Panel D ----------------
d_idx = list(range(len(d_names)))
traces.append(seg_trace([0] * len(d_cor), d_cor, d_idx, d_idx, "#9c9c9c", 1.2, "x4", "y4"))
traces.append(go.Scatter(
    x=d_cor, y=d_idx, mode="markers", xaxis="x4", yaxis="y4", hoverinfo="skip", showlegend=False,
    marker=dict(size=[abs(v) for v in d_cor], sizemode="area", sizeref=0.01, sizemin=0.8,
                color=d_pval, cmin=0.02, cmax=0.95,
                colorscale=[[0, "#86C8BE"], [0.5, "#C0C1A4"], [1, "#F6B283"]], line=dict(width=0),
                showscale=True,
                colorbar=dict(x=X(555.7), xanchor="left", y=Y(405), yanchor="bottom", len=28.3, lenmode="pixels",
                              thickness=5.3, thicknessmode="pixels", xpad=0, ypad=0, outlinewidth=0,
                              tickvals=[0.25, 0.5, 0.75], ticktext=["0.25", "0.50", "0.75"], ticks="",
                              tickfont=dict(size=3.6, color="#333", family=SANS)))))
text(558, 339.3, "abscor", 4, "#333", xanchor="left")
for v, py in ((0.1, 345.7), (0.2, 352.2), (0.3, 358.8)):
    r = np.sqrt(v / 0.01) / 2
    shapes.append(dict(type="circle", xref="paper", yref="paper", xsizemode="pixel", ysizemode="pixel",
                       xanchor=X(558.7), yanchor=Y(py), x0=-r, x1=r, y0=-r, y1=r,
                       fillcolor="#111", line=dict(width=0)))
    text(565, py, f"{v:.1f}", 3.6, "#333", xanchor="left")
text(556, 372.8, "pval", 4, "#333", xanchor="left")
text(452, 475.5, "SERPINF1", 3.8, "#333")

# ---------------- Panels E / F ----------------
def scatter_panel(points, htop, tstart, tbw, hright, rstart, rbw, xs, ys_, xtop, ytop, xr, yr):
    px = np.array([p[0] for p in points]); py = np.array([p[1] for p in points])
    traces.append(go.Scatter(x=px, y=py, mode="markers", xaxis=xs, yaxis=ys_, hoverinfo="skip", showlegend=False,
                             marker=dict(size=4.8, color="rgba(72,168,201,0.72)", line=dict(width=0))))
    slope, inter = np.polyfit(px, py, 1)
    gx = np.linspace(px.min(), px.max(), 60)
    n = len(px); res = py - (inter + slope * px)
    s = np.sqrt(np.sum(res ** 2) / (n - 2))
    se = s * np.sqrt(1 / n + (gx - px.mean()) ** 2 / np.sum((px - px.mean()) ** 2))
    fit = inter + slope * gx
    traces.append(go.Scatter(x=np.concatenate([gx, gx[::-1]]), y=np.concatenate([fit + 1.97 * se, (fit - 1.97 * se)[::-1]]),
                             fill="toself", fillcolor="rgba(150,150,150,0.35)", line=dict(width=0), mode="lines",
                             xaxis=xs, yaxis=ys_, hoverinfo="skip", showlegend=False))
    traces.append(go.Scatter(x=gx, y=fit, mode="lines", line=dict(color="#E8716B", width=0.9),
                             xaxis=xs, yaxis=ys_, hoverinfo="skip", showlegend=False))
    traces.append(go.Bar(x=[tstart + tbw * (i + 0.5) for i in range(len(htop))], y=htop, width=tbw,
                         marker=dict(color="#2EB87A", line=dict(color="white", width=0.5)),
                         xaxis=xtop, yaxis=ytop, hoverinfo="skip", showlegend=False))
    traces.append(go.Bar(y=[rstart + rbw * (i + 0.5) for i in range(len(hright))], x=hright, width=rbw,
                         orientation="h", marker=dict(color="#F7941D", line=dict(color="white", width=0.4)),
                         xaxis=xr, yaxis=yr, hoverinfo="skip", showlegend=False))

scatter_panel(e_points, e_hist_top, e_top_start, e_top_bw, e_hist_right, e_right_start, e_right_bw,
              "x5", "y5", "x6", "y6", "x7", "y7")
scatter_panel(f_points, f_hist_top, f_top_start, f_top_bw, f_hist_right, f_right_start, f_right_bw,
              "x8", "y8", "x9", "y9", "x10", "y10")

text(139, 531.7, "<b>DDR2 vs Macrophages M2 Expression Correlation</b>", 6.2, "#111")
text(453, 531.7, "<b>SERPINF1 vs Macrophages M2 Expression Correlation</b>", 6.2, "#111")
text(44, 588.5, e_label, 8.4, "#111", xanchor="left")
text(358.5, 588.5, f_label, 8.4, "#111", xanchor="left")
text(138, 749, "DDR2 Expression", 7.2, "#222")
text(448, 749, "SERPINF1 Expression", 7.2, "#222")
text(16, 653, "Macrophages M2 Score", 7.3, "#222", angle=-90)
text(330, 653, "Macrophages M2", 7.3, "#222", angle=-90)
text(246, 758, e_pearson, 4.6, "#222", xanchor="right")
text(557, 758, f_pearson, 4.6, "#222", xanchor="right")

# panel letters
for lab, cx, cy in (("A", 13.5, 16.5), ("B", 319, 15.5), ("C", 12.5, 267.5), ("D", 319, 269), ("E", 13, 509.5), ("F", 318.5, 507.5)):
    text(cx, cy, lab, 20, "#000", family=SERIF)

# =====================================================================
def cat_x(dom, rng, vals, labels, size):
    return dict(domain=dom, range=rng, tickvals=vals, ticktext=labels, tickangle=-45,
                tickfont=dict(size=size, color=TXT, family=SANS), showline=True, linecolor="#333", linewidth=0.8,
                ticks="outside", ticklen=2, tickcolor="#333", tickwidth=0.6, showgrid=False, zeroline=False,
                fixedrange=True)

def num_y(dom, rng, vals, labels, size):
    return dict(domain=dom, range=rng, tickvals=vals, ticktext=labels, tickfont=dict(size=size, color=TXT, family=SANS),
                showline=True, linecolor="#333", linewidth=0.8, ticks="outside", ticklen=2, tickcolor="#333",
                tickwidth=0.6, showgrid=False, zeroline=False, fixedrange=True)

def sc_axis(dom, rng, vals, labels, minor, anchor):
    return dict(domain=dom, range=rng, tickvals=vals, ticktext=labels, anchor=anchor,
                tickfont=dict(size=6.4, color=TXT, family=SANS), showline=True, mirror=True, linecolor="#A8A8A8",
                linewidth=0.9, ticks="outside", ticklen=1.5, tickcolor="#555", tickwidth=0.6, showgrid=True,
                gridcolor="#EBEBEB", gridwidth=0.6, zeroline=False, fixedrange=True,
                minor=dict(tickvals=minor, showgrid=True, gridcolor="#F4F4F4", gridwidth=0.4, ticks=""))

hidden = lambda dom, rng, anchor: dict(domain=dom, range=rng, visible=False, anchor=anchor, fixedrange=True)

layout = dict(
    width=W, height=H, margin=dict(l=0, r=0, t=0, b=0), paper_bgcolor="white", plot_bgcolor="white",
    showlegend=False, barmode="overlay", boxmode="overlay", font=dict(family=SANS),
    xaxis=dict(cat_x([X(23), X(275)], [-0.6, 21.6], list(range(len(a_cells))), a_cells, 5.6), anchor="y"),
    yaxis=dict(num_y([Y(162), Y(50)], [-0.03, 0.642], [0, 0.2, 0.4, 0.6], ["0.0", "0.2", "0.4", "0.6"], 6.3), anchor="x"),
    xaxis2=dict(cat_x([X(335), X(583)], [-0.85, 28.75], list(range(len(b_sets))), b_sets, 5.4), anchor="y2"),
    yaxis2=dict(num_y([Y(163.3), Y(43)], [-0.045, 1.052], [0, 0.25, 0.5, 0.75, 1.0],
                      ["0.00", "0.25", "0.50", "0.75", "1.00"], 5.6), anchor="x2"),
    xaxis3=hidden([X(20), X(275)], [0, 381], "y3"),
    yaxis3=hidden([Y(351.5), Y(321.5)], [-0.5, 1.5], "x3"),
    xaxis4=dict(domain=[X(368.3), X(548.3)], range=[-0.376, 0.314], tickvals=[-0.2, 0, 0.2],
                ticktext=["\u22120.2", "0.0", "0.2"], tickfont=dict(size=3.8, color=TXT, family=SANS), showline=True,
                linecolor="#A0A0A0", linewidth=1.2, ticks="outside", ticklen=1.5, tickcolor="#A0A0A0",
                showgrid=False, zeroline=False, anchor="y4", fixedrange=True),
    yaxis4=dict(domain=[Y(464), Y(278.3)], range=[24.5, -0.54], tickvals=d_idx, ticktext=d_names,
                tickfont=dict(size=3.6, color=TXT, family=SANS), showline=True, linecolor="#A0A0A0", linewidth=1.2,
                ticks="outside", ticklen=1.2, tickcolor="#A0A0A0", showgrid=False, zeroline=False, anchor="x4",
                fixedrange=True),
    xaxis5=sc_axis([X(35), X(244.3)], [-0.176, 7.19], [0, 2, 4, 6], ["0", "2", "4", "6"], [1, 3, 5, 7], "y5"),
    yaxis5=sc_axis([Y(733.3), Y(573.3)], [-0.031, 0.641], [0, 0.2, 0.4, 0.6], ["0.0", "0.2", "0.4", "0.6"],
                   [0.1, 0.3, 0.5], "x5"),
    xaxis6=hidden([X(35), X(244.3)], [-0.176, 7.19], "y6"),
    yaxis6=hidden([Y(572), Y(543)], [0, max(e_hist_top) * 1.07], "x6"),
    xaxis7=hidden([X(245), X(292)], [0, max(e_hist_right) * 1.24], "y7"),
    yaxis7=hidden([Y(733.3), Y(573.3)], [-0.031, 0.641], "x7"),
    xaxis8=sc_axis([X(350), X(557.3)], [-0.95, 7.76], [0, 2, 4, 6], ["0", "2", "4", "6"], [-1, 1, 3, 5, 7], "y8"),
    yaxis8=sc_axis([Y(733.3), Y(574)], [-0.031, 0.637], [0, 0.2, 0.4, 0.6], ["0.0", "0.2", "0.4", "0.6"],
                   [0.1, 0.3, 0.5], "x8"),
    xaxis9=hidden([X(350), X(557.3)], [-0.95, 7.76], "y9"),
    yaxis9=hidden([Y(572), Y(543)], [0, max(f_hist_top) * 1.07], "x9"),
    xaxis10=hidden([X(559.3), X(600)], [0, max(f_hist_right) * 1.09], "y10"),
    yaxis10=hidden([Y(733.3), Y(574)], [-0.031, 0.637], "x10"),
    shapes=shapes, annotations=ann,
)

fig = go.Figure(data=traces, layout=layout)
fig.write_html("out.html", include_plotlyjs=True, full_html=True)
